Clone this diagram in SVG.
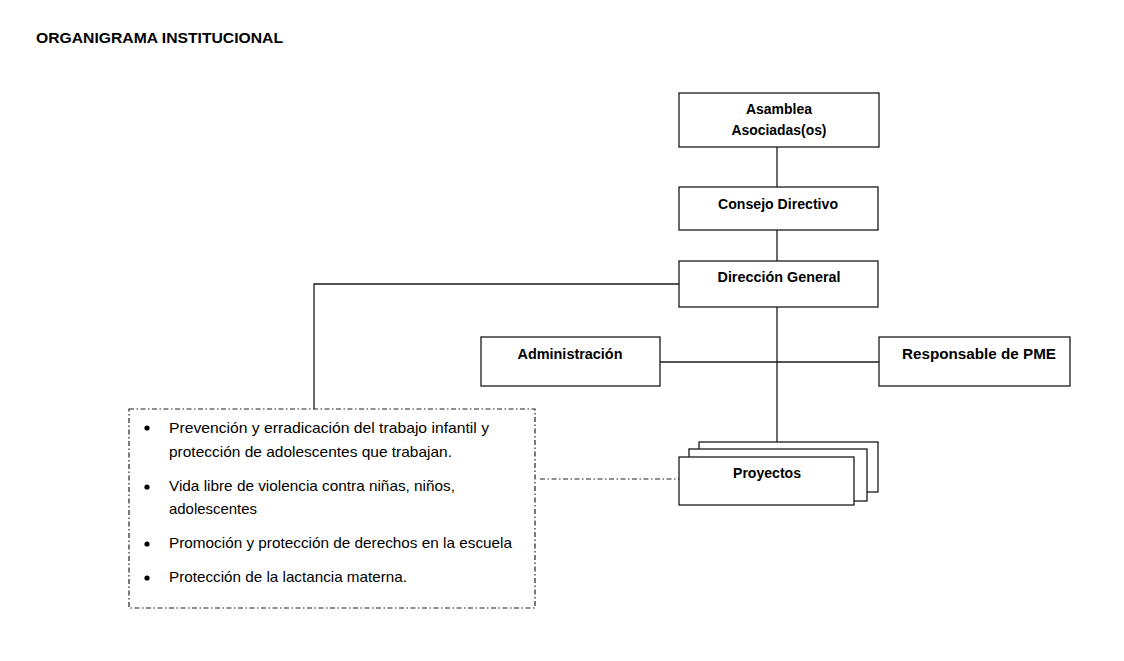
<svg xmlns="http://www.w3.org/2000/svg" width="1124" height="661" viewBox="0 0 1124 661">
<style>
.box{fill:#fff;stroke:#1a1a1a;stroke-width:1.3}
.ln{fill:none;stroke:#1a1a1a;stroke-width:1.3}
.dd{fill:none;stroke:#222;stroke-width:1.2;stroke-dasharray:5 2.5 1.5 2.5}
.b{font-family:"Liberation Sans",Arial,sans-serif;font-weight:bold;font-size:14.5px;fill:#000;text-anchor:middle}
.t{font-family:"Liberation Sans",Arial,sans-serif;font-size:14.5px;fill:#000}
.h{font-family:"Liberation Sans",Arial,sans-serif;font-weight:bold;font-size:15.5px;fill:#000}
</style>
<rect width="1124" height="661" fill="#fff"/>
<text class="h" x="36" y="43" textLength="247" lengthAdjust="spacingAndGlyphs">ORGANIGRAMA INSTITUCIONAL</text>
<g id="connectors">
<line class="ln" x1="777" y1="147" x2="777" y2="187"/>
<line class="ln" x1="777" y1="230" x2="777" y2="261"/>
<line class="ln" x1="777" y1="307" x2="777" y2="445"/>
<polyline class="ln" points="679,284 314,284 314,409"/>
<line class="ln" x1="660" y1="362" x2="879" y2="362"/>
<line class="dd" x1="540" y1="479" x2="679" y2="479"/>
</g>
<g id="asamblea">
<rect class="box" x="679" y="93" width="200" height="54"/>
<text class="b" x="779" y="114" textLength="66" lengthAdjust="spacingAndGlyphs">Asamblea</text>
<text class="b" x="779" y="135" textLength="95" lengthAdjust="spacingAndGlyphs">Asociadas(os)</text>
</g>
<g id="consejo">
<rect class="box" x="679" y="187" width="199" height="43"/>
<text class="b" x="778" y="209" textLength="120" lengthAdjust="spacingAndGlyphs">Consejo Directivo</text>
</g>
<g id="direccion">
<rect class="box" x="679" y="261" width="199" height="46"/>
<text class="b" x="779" y="282" textLength="123" lengthAdjust="spacingAndGlyphs">Dirección General</text>
</g>
<g id="administracion">
<rect class="box" x="481" y="337" width="179" height="49"/>
<text class="b" x="570" y="359" textLength="105" lengthAdjust="spacingAndGlyphs">Administración</text>
</g>
<g id="responsable">
<rect class="box" x="879" y="337" width="191" height="49"/>
<text class="b" x="979" y="359" textLength="154" lengthAdjust="spacingAndGlyphs">Responsable de PME</text>
</g>
<g id="proyectos">
<rect class="box" x="699" y="442" width="179" height="50"/>
<rect class="box" x="689" y="449" width="178" height="52"/>
<rect class="box" x="679" y="457" width="175" height="48"/>
<text class="b" x="767" y="478" textLength="68" lengthAdjust="spacingAndGlyphs">Proyectos</text>
</g>
<g id="programas">
<rect class="dd" x="129" y="409" width="406" height="199"/>
<circle cx="147" cy="428" r="2.6" fill="#000"/>
<circle cx="147" cy="487" r="2.6" fill="#000"/>
<circle cx="147" cy="544" r="2.6" fill="#000"/>
<circle cx="147" cy="578" r="2.6" fill="#000"/>
<text class="t" x="169" y="433" textLength="320" lengthAdjust="spacingAndGlyphs">Prevención y erradicación del trabajo infantil y</text>
<text class="t" x="169" y="457" textLength="283" lengthAdjust="spacingAndGlyphs">protección de adolescentes que trabajan.</text>
<text class="t" x="169" y="491" textLength="286" lengthAdjust="spacingAndGlyphs">Vida libre de violencia contra niñas, niños,</text>
<text class="t" x="169" y="514" textLength="88" lengthAdjust="spacingAndGlyphs">adolescentes</text>
<text class="t" x="169" y="548" textLength="343" lengthAdjust="spacingAndGlyphs">Promoción y protección de derechos en la escuela</text>
<text class="t" x="169" y="582" textLength="238" lengthAdjust="spacingAndGlyphs">Protección de la lactancia materna.</text>
</g>
</svg>
